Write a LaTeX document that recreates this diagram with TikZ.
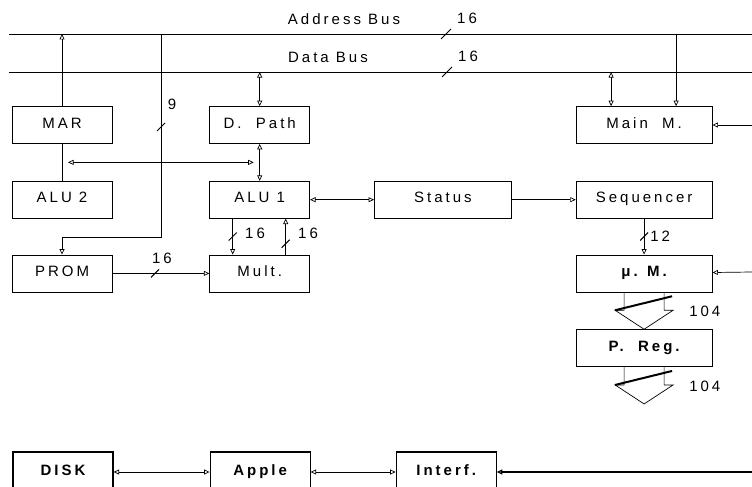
\documentclass[tikz,border=0pt]{standalone}
\usepackage{fontspec}
\setmainfont{Liberation Sans}[LetterSpace=20]
\usetikzlibrary{arrows.meta, positioning}

\begin{document}
\begin{tikzpicture}[
    x=1pt, y=-1pt,
    font=\fontsize{15}{17}\selectfont,
    node distance=37pt and 97pt,
    blk/.style={draw, line width=0.7pt, minimum width=100pt, minimum height=37pt, inner sep=0pt,
                text height=1.5ex, text depth=.3ex},
    wideblk/.style={blk, minimum width=136pt},
    boldblk/.style={wideblk, font=\fontsize{15}{17}\selectfont\bfseries},
    iobox/.style={blk, line width=1.1pt, minimum height=40pt, font=\fontsize{15}{17}\selectfont\bfseries},
    conn/.style={line width=0.7pt},
    arr/.style={conn, -{Triangle[open, length=5.5pt, width=5pt]}},
    darr/.style={conn, {Triangle[open, length=5.5pt, width=5pt]}-{Triangle[open, length=5.5pt, width=5pt]}},
    bus/.style={line width=0.9pt},
    bitw/.style={line width=1pt},
    lbl/.style={inner sep=1pt}
  ]
  \useasboundingbox (0,0) rectangle (752,487);
  \clip (0,0) rectangle (752,487);

  % Buses
  \coordinate (ab-l) at (9,34);
  \coordinate (ab-r) at (752,34);
  \coordinate (db-l) at (9,72);
  \coordinate (db-r) at (752,72);
  \draw[bus] (ab-l) -- (ab-r);
  \draw[bus] (db-l) -- (db-r);
  \node[lbl] (ab-name) at (344,19) {Address Bus};
  \node[lbl] (db-name) at (328,57) {Data Bus};
  \coordinate (ab-w) at (446,34);
  \coordinate (db-w) at (447,72);
  \draw[bitw] (ab-w) ++(-5,5) -- ++(10,-10);
  \draw[bitw] (db-w) ++(-5,5) -- ++(10,-10);
  \node[lbl] (ab-bits) at (467,18) {16};
  \node[lbl] (db-bits) at (468,56) {16};

  % Nodes
  \node[blk] (mar) at (62,125) {MAR};
  \node[blk, below=of mar] (alu2) {ALU 2};
  \node[blk, below=36pt of alu2] (prom) {PROM};
  \node[blk, right=of mar] (dpath) {D.\ \ Path};
  \node[blk, right=of alu2] (alu1) {ALU 1};
  \node[blk, right=of prom] (mult) {Mult.};
  \node[blk, minimum width=137pt, right=64pt of alu1] (status) {Status};
  \node[wideblk, right=64pt of status] (seq) {Sequencer};
  \node[wideblk, above=of seq] (mainm) {Main\ \ M.};
  \node[boldblk, below=36pt of seq] (um) {μ. M.};
  \node[boldblk, below=of um] (preg) {P.\ \ Reg.};

  \node[iobox] (disk) at (63,472) {DISK};
  \node[iobox, right=96pt of disk] (apple) {Apple};
  \node[iobox, right=85pt of apple] (interf) {Interf.};

  % Arrows - bus side
  \draw[arr] (mar) -- (mar |- ab-l);
  \draw[darr] (dpath) -- (dpath |- db-l);
  \draw[darr] ([xshift=-33pt]mainm.north) -- ([xshift=-33pt]mainm.north |- db-l);
  \draw[arr] ([xshift=32pt]mainm.north |- ab-l) -- ([xshift=32pt]mainm.north);
  \coordinate (pa) at (161,34);
  \draw[arr] (pa) |- ([yshift=17pt]prom.north) -- (prom.north);
  \coordinate (pa-w) at (161,127);
  \draw[bitw] (pa-w) ++(-4,4) -- ++(8,-8);
  \node[lbl] (pa-bits) at (172,104) {9};

  % Arrows - processor
  \draw[conn] (alu2) -- (mar) coordinate[midway] (mj);
  \draw[darr] (alu1) -- (dpath) coordinate[midway] (dj);
  \draw[darr, shorten <=6pt, shorten >=6pt] (mj) -- (dj);
  \draw[darr] (alu1) -- (status);
  \draw[arr] (status) -- (seq);
  \draw[arr] ([xshift=-27pt]alu1.south) -- ([xshift=-27pt]mult.north) coordinate[pos=.5] (am-w);
  \draw[arr] ([xshift=26pt]mult.north) -- ([xshift=26pt]alu1.south) coordinate[pos=.3] (ma-w);
  \draw[arr] (prom) -- (mult) coordinate[pos=.44] (pm-w);
  \draw[bitw] (am-w) ++(-4,4) -- ++(8,-8);
  \draw[bitw] (ma-w) ++(-4,4) -- ++(8,-8);
  \draw[bitw] (pm-w) ++(-4,4) -- ++(8,-8);
  \node[lbl] (am-bits) at (255,233) {16};
  \node[lbl] (ma-bits) at (308,233) {16};
  \node[lbl] (pm-bits) at (162,258) {16};

  % Arrows - control
  \draw[arr] (seq) -- (um) coordinate[pos=.5] (su-w);
  \draw[bitw] (su-w) ++(-4,4) -- ++(8,-8);
  \node[lbl, anchor=west] (su-bits) at ([xshift=5pt]su-w) {12};
  \coordinate (mm-in) at (752,125);
  \coordinate (um-in) at (752,272);
  \draw[arr] (mm-in) -- (mainm);
  \draw[arr] (um-in) -- (um);
  \foreach \n in {um, preg} {
    \draw[conn] ([xshift=-20pt]\n.south) -- ++(0,18) -- ++(-9,0) -- ++(29,19)
      -- ++(29,-19) -- ++(-9,0) -- ([xshift=20pt]\n.south);
    \draw[line width=2pt] ([xshift=-29pt,yshift=-18pt]\n.south) -- ++(57,-14);
    \node[lbl, anchor=west] at ([xshift=44pt,yshift=-19pt]\n.south) {104};
  }

  % Arrows - host
  \draw[darr] (disk) -- (apple);
  \draw[darr] (apple) -- (interf);
  \coordinate (if-in) at (752,472);
  \draw[arr, line width=1.2pt] (if-in) -- (interf);
\end{tikzpicture}
\end{document}
